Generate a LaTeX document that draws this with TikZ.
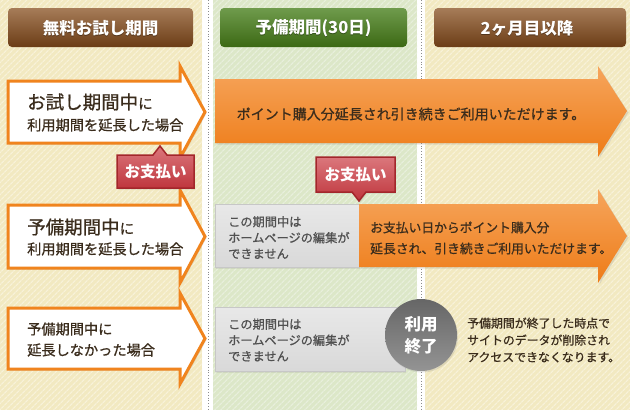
\documentclass[tikz,border=0pt]{standalone}
\usepackage{fontspec}
\newfontfamily\jp{Noto Sans CJK JP}
\newfontfamily\jpm{Noto Sans CJK JP}[FakeBold=0.8]
\usetikzlibrary{patterns.meta,shadows}
\definecolor{beigebg}{HTML}{F2E9C1}
\definecolor{beigest}{HTML}{F8F2D9}
\definecolor{greenbg}{HTML}{DCE7C8}
\definecolor{greenst}{HTML}{E8EFDC}
\definecolor{brtop}{HTML}{A67C58}
\definecolor{brbot}{HTML}{6C3D16}
\definecolor{grtop}{HTML}{6F9B4C}
\definecolor{grbot}{HTML}{3C6914}
\definecolor{ortop}{HTML}{F6A55C}
\definecolor{orbot}{HTML}{EE7C18}
\definecolor{orline}{HTML}{F0841E}
\definecolor{redtop}{HTML}{DB777C}
\definecolor{redbot}{HTML}{BF363D}
\definecolor{redline}{HTML}{A3262B}
\definecolor{darktxt}{HTML}{3A2C1C}
\definecolor{greytxt}{HTML}{505050}
\tikzset{
  x=1pt, y=-1pt,
  hdr/.style={rounded corners=4pt, top color=brtop, bottom color=brbot},
  hdrgreen/.style={rounded corners=4pt, top color=grtop, bottom color=grbot},
  hdrtxt/.style={text=white, font=\jp\bfseries\fontsize{16.5}{18}\selectfont},
  hdrshadow/.style={text=black, opacity=.35, font=\jp\bfseries\fontsize{16.5}{18}\selectfont},
  whitearrow/.style={fill=white, draw=orline, line width=3pt, line join=miter,
     drop shadow={shadow xshift=1.5pt, shadow yshift=-1.5pt, opacity=.2}},
  orangearrow/.style={top color=ortop, bottom color=orbot,
     drop shadow={shadow xshift=1.5pt, shadow yshift=-1.5pt, opacity=.2}},
  greybox/.style={top color=black!9, bottom color=black!15, draw=black!22, line width=.8pt,
     drop shadow={shadow xshift=1pt, shadow yshift=-1.5pt, opacity=.15}},
  badge/.style={top color=redtop, bottom color=redbot, draw=redline, line width=1.5pt,
     drop shadow={shadow xshift=1pt, shadow yshift=-1.5pt, opacity=.2}},
  badgetxt/.style={text=white, font=\jp\bfseries\fontsize{15.5}{18}\selectfont},
  bigtxt/.style={anchor=west, inner sep=0pt, text=darktxt, font=\jpm\fontsize{18.5}{22}\selectfont},
  subtxt/.style={anchor=west, inner sep=0pt, text=darktxt, font=\jpm\fontsize{14.2}{18}\selectfont},
  greytext/.style={anchor=west, inner sep=0pt, align=left, text=greytxt, font=\jpm\fontsize{12.2}{16}\selectfont},
  dotline/.style={draw=black!45, dotted, line width=.8pt}
}
\begin{document}
\begin{tikzpicture}
\useasboundingbox (0,0) rectangle (630,410);
% backgrounds
\fill[white] (0,0) rectangle (630,410);
\fill[beigebg] (0,0) rectangle (202,410);
\fill[pattern={Lines[angle=45,distance=4pt,line width=1.3pt]}, pattern color=beigest] (0,0) rectangle (202,410);
\fill[greenbg] (213,0) rectangle (417,410);
\fill[pattern={Lines[angle=45,distance=4pt,line width=1.3pt]}, pattern color=greenst] (213,0) rectangle (417,410);
\fill[beigebg] (425,0) rectangle (630,410);
\fill[pattern={Lines[angle=45,distance=4pt,line width=1.3pt]}, pattern color=beigest] (425,0) rectangle (630,410);
\coordinate (d1t) at (208,0); \coordinate (d1b) at (208,410);
\coordinate (d2t) at (421,0); \coordinate (d2b) at (421,410);
\draw[dotline] (d1t) -- (d1b);
\draw[dotline] (d2t) -- (d2b);

% headers
\path[hdr] (8,8) rectangle (193,47);
\node[hdrshadow] (h1s) at (100.5,29.2) {無料お試し期間};
\node[hdrtxt] (h1) at (100.5,28) {無料お試し期間};
\path[hdrgreen] (220,8) rectangle (407,47);
\node[hdrshadow] (h2s) at (313.5,29.2) {予備期間(30日)};
\node[hdrtxt] (h2) at (313.5,28) {予備期間(30日)};
\path[hdr] (434,8) rectangle (626,47);
\node[hdrshadow] (h3s) at (527,29.2) {2ヶ月目以降};
\node[hdrtxt] (h3) at (527,28) {2ヶ月目以降};

% row 1
\path[orangearrow] (215,79) -- (598,79) -- (598,66) -- (627,111) -- (598,157) -- (598,143) -- (215,143) -- cycle;
\node[text=darktxt, font=\jpm\fontsize{14}{16}\selectfont] (o1) at (411,114) {ポイント購入分延長され引き続きご利用いただけます。};
\path[whitearrow] (8,81) -- (180,81) -- (180,66) -- (205,112) -- (180,158) -- (180,143) -- (8,143) -- cycle;
\node[bigtxt] (t1) at (27,102) {お試し期間中{\fontsize{14.5}{18}\selectfont に}};
\node[subtxt] (s1) at (27,125) {利用期間を延長した場合};

% row 2
\path[greybox] (215,204) rectangle (359,267);
\node[greytext] (g2) at (228,237.5) {この期間中は\\ホームページの編集が\\できません};
\path[orangearrow] (359,204) -- (598,204) -- (598,189) -- (627,236) -- (598,283) -- (598,267) -- (359,267) -- cycle;
\node[anchor=west, inner sep=0pt, align=left, text=darktxt, font=\jpm\fontsize{12.8}{21}\selectfont] (o2) at (370,238) {お支払い日からポイント購入分\\延長され、引き続きご利用いただけます。};
\path[whitearrow] (8,205) -- (180,205) -- (180,190) -- (205,236.5) -- (180,283) -- (180,268) -- (8,268) -- cycle;
\node[bigtxt] (t2) at (27,227) {予備期間中{\fontsize{14.5}{18}\selectfont に}};
\node[subtxt] (s2) at (27,249) {利用期間を延長した場合};

% badges
\path[badge] (117,155) -- (153,155) -- (160,146) -- (167,155) -- (194,155) -- (194,188) -- (117,188) -- cycle;
\node[badgetxt] (b1) at (155.5,172) {お支払い};
\path[badge] (316,157) -- (395,157) -- (395,192) -- (366,192) -- (359,201) -- (352,192) -- (316,192) -- cycle;
\node[badgetxt] (b2) at (355.5,175) {お支払い};

% row 3
\path[greybox] (215,307) rectangle (405,371);
\node[greytext] (g3) at (228,340) {この期間中は\\ホームページの編集が\\できません};
\node[circle, minimum size=72pt, inner sep=0pt, top color=black!60, bottom color=black!42,
  drop shadow={shadow xshift=1pt, shadow yshift=-1.5pt, opacity=.2},
  text=white, align=center, font=\jp\bfseries\fontsize{16.5}{22}\selectfont] (end) at (421,335) {利用\\終了};
\node[anchor=west, inner sep=0pt, align=left, text=darktxt, font=\jpm\fontsize{11.9}{17}\selectfont] (r3) at (467,340) {予備期間が終了した時点で\\サイトのデータが削除され\\アクセスできなくなります。};
\path[whitearrow] (8,308) -- (180,308) -- (180,293) -- (205,338.5) -- (180,384) -- (180,369) -- (8,369) -- cycle;
\node[subtxt] (t3) at (27,329) {予備期間中に};
\node[subtxt] (s3) at (27,350) {延長しなかった場合};
\end{tikzpicture}
\end{document}
